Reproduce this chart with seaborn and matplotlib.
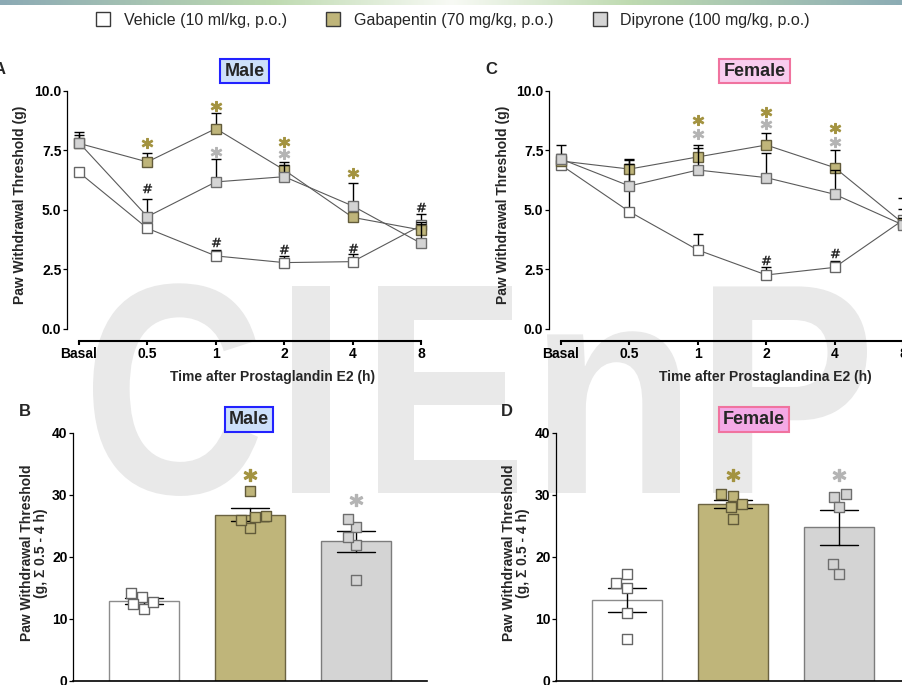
"""
Paw withdrawal threshold after PGE2 - male / female, time course and area
Output: out.png
"""

import numpy as np
import pandas as pd
import matplotlib
matplotlib.use("Agg")
import matplotlib.pyplot as plt
from matplotlib.lines import Line2D
from matplotlib.patches import PathPatch
from matplotlib.textpath import TextPath
from matplotlib.font_manager import FontProperties
from matplotlib.transforms import Affine2D
import seaborn as sns

# ---------------- data ----------------
times = ["Basal", "0.5", "1", "2", "4", "8"]
groups = ["Vehicle", "Gabapentin", "Dipyrone"]
legend_labels = ["Vehicle (10 ml/kg, p.o.)", "Gabapentin (70 mg/kg, p.o.)",
                 "Dipyrone (100 mg/kg, p.o.)"]

# A - male time course (mean and upper SEM, g)
male_veh = [6.58, 4.23, 3.07, 2.79, 2.83, 4.35]
male_veh_sem = [0.15, 0.15, 0.25, 0.29, 0.31, 0.47]
male_gaba = [7.80, 7.02, 8.42, 6.68, 4.69, 4.16]
male_gaba_sem = [0.35, 0.39, 0.64, 0.32, 0.30, 0.25]
male_dip = [7.83, 4.72, 6.18, 6.40, 5.17, 3.60]
male_dip_sem = [0.46, 0.76, 0.98, 0.49, 0.95, 0.91]

# C - female time course
female_veh = [6.89, 4.93, 3.32, 2.27, 2.59, 4.58]
female_veh_sem = [0.20, 2.20, 0.66, 0.32, 0.28, 0.94]
female_gaba = [7.06, 6.72, 7.23, 7.73, 6.78, 4.44]
female_gaba_sem = [0.67, 0.40, 0.50, 0.49, 0.73, 0.60]
female_dip = [7.14, 6.01, 6.68, 6.36, 5.66, 4.37]
female_dip_sem = [0.23, 0.91, 0.91, 1.05, 1.00, 0.30]

# significance marks (time index, height)
male_star_gaba = [(1, 7.80), (2, 9.35), (3, 7.85), (4, 6.55)]
male_star_dip = [(2, 7.45), (3, 7.35)]
male_hash = [(1, 5.91), (2, 3.67), (3, 3.36), (4, 3.42), (5, 5.14)]
female_star_gaba = [(2, 8.78), (3, 9.13), (4, 8.43)]
female_star_dip = [(2, 8.18), (3, 8.60), (4, 7.84)]
female_hash = [(3, 2.90), (4, 3.18)]

# B / D - area (g, sum 0.5 - 4 h), individual animals
male_auc_veh = [13.6, 11.6, 12.8, 14.2, 12.4]
male_auc_gaba = [26.6, 24.7, 30.6, 26.4, 25.9]
male_auc_dip = [24.9, 21.9, 26.2, 23.3, 16.3]
female_auc_veh = [17.2, 15.0, 15.8, 10.9, 6.7]
female_auc_gaba = [30.1, 28.0, 29.9, 26.2, 28.5]
female_auc_dip = [29.7, 30.1, 28.0, 18.8, 17.2]

male_auc_star = [(1, 33.3, "gaba"), (2, 29.15, "dip")]
female_auc_star = [(1, 33.3, "gaba"), (2, 33.2, "dip")]

# ---------------- style ----------------
fills = ["#ffffff", "#bfb57a", "#d4d4d4"]
mark_edges = ["#666666", "#625b3a", "#6e6e6e"]
bar_edges = ["#8c8c8c", "#6b6342", "#7c7c7c"]
star_cols = {"gaba": "#a39340", "dip": "#b4b4b4"}
line_col = "#5a5a5a"

W, H = 903, 685

sns.set_style("ticks")
plt.rcParams["font.family"] = ["Liberation Sans", "DejaVu Sans"]
plt.rcParams["font.weight"] = "bold"
plt.rcParams["axes.labelweight"] = "bold"
plt.rcParams["axes.edgecolor"] = "black"
plt.rcParams["xtick.color"] = "black"
plt.rcParams["ytick.color"] = "black"


def px_axes(fig, left, top, right, bottom):
    """axes from pixel box (top-left origin)"""
    return fig.add_axes([left / W, 1 - bottom / H, (right - left) / W, (bottom - top) / H])


def add_marks(ax, marks, marker, color, ms, mew):
    xs = [m[0] for m in marks]
    ys = [m[1] for m in marks]
    ax.plot(xs, ys, ls="none", marker=marker, ms=ms, color=color,
            markeredgecolor=color, markeredgewidth=mew, zorder=12, clip_on=False)


def time_course(ax, means, sems, star_gaba, star_dip, hashes, xlabel, xlabel_x, ylabel_x):
    pos = np.arange(len(times))
    for i in range(3):
        ax.errorbar(pos, means[i], yerr=[np.zeros(len(pos)), sems[i]], fmt="none",
                    ecolor="black", elinewidth=1.0, capsize=3.6, capthick=1.0,
                    zorder=2 + 2 * i, clip_on=False)
        df = pd.DataFrame({"t": pos, "pwt": means[i]})
        sns.lineplot(data=df, x="t", y="pwt", ax=ax, errorbar=None, color=line_col,
                     linewidth=0.8, marker="s", markersize=7.5,
                     markerfacecolor=fills[i], markeredgecolor=mark_edges[i],
                     markeredgewidth=1.0, zorder=3 + 2 * i, clip_on=False)

    add_marks(ax, star_gaba, "$*$", star_cols["gaba"], 7.5, 0.8)
    add_marks(ax, star_dip, "$*$", star_cols["dip"], 7.5, 0.8)
    add_marks(ax, hashes, r"$\#$", "#222222", 6.8, 0)

    ax.set_xlim(-0.175, 5.13)
    ax.set_ylim(0, 10)
    ax.set_xticks(pos, times)
    ax.set_yticks([0, 2.5, 5, 7.5, 10], ["0.0", "2.5", "5.0", "7.5", "10.0"])
    sns.despine(ax=ax)
    ax.spines["bottom"].set_position(("outward", 8.6))
    ax.spines["bottom"].set_bounds(0, 5)
    ax.spines["bottom"].set_linewidth(1.5)
    ax.spines["left"].set_bounds(0, 10)
    ax.spines["left"].set_linewidth(0.9)
    ax.tick_params(axis="x", length=3, width=1.5, pad=1.5, labelsize=10)
    ax.tick_params(axis="y", length=3, width=0.9, pad=1, labelsize=10)
    ax.set_xlabel(xlabel, fontsize=10)
    ax.xaxis.set_label_coords(xlabel_x, -0.172)
    ax.set_ylabel("Paw Withdrawal Threshold (g)", fontsize=10)
    ax.yaxis.set_label_coords(ylabel_x, 0.52)
    ax.set_facecolor("none")


def area_bars(ax, values, stars, ylabel_x):
    df = pd.DataFrame({"group": np.repeat(groups, [len(v) for v in values]),
                       "auc": np.concatenate(values)})
    sns.barplot(data=df, x="group", y="auc", hue="group", order=groups, hue_order=groups,
                palette=fills, saturation=1, errorbar="se", capsize=0.35, width=0.66,
                err_kws={"color": "black", "linewidth": 1.0}, linewidth=1.0,
                legend=False, ax=ax)
    for patch, ec in zip(ax.patches, bar_edges):
        patch.set_edgecolor(ec)
    for i, g in enumerate(groups):
        sns.swarmplot(data=df[df["group"] == g], x="group", y="auc", order=groups,
                      color=fills[i], marker="s", size=7.2, edgecolor=mark_edges[i],
                      linewidth=1.0, ax=ax, zorder=5)
    for x, y, kind in stars:
        add_marks(ax, [(x, y)], "$*$", star_cols[kind], 9, 0.9)

    ax.set_xlim(-0.67, 2.67)
    ax.set_ylim(0, 40)
    ax.set_yticks([0, 10, 20, 30, 40])
    sns.despine(ax=ax)
    ax.spines["left"].set_linewidth(0.9)
    ax.spines["bottom"].set_linewidth(1.2)
    ax.tick_params(axis="x", length=0, labelbottom=False)
    ax.tick_params(axis="y", length=3, width=0.9, pad=1, labelsize=10)
    ax.set_xlabel("")
    ax.set_ylabel("Paw Withdrawal Threshold\n(g, \u03a3 0.5 - 4 h)", fontsize=10,
                  linespacing=1.05)
    ax.yaxis.set_label_coords(ylabel_x, 0.516)
    ax.set_facecolor("none")


def main():
    fig = plt.figure(figsize=(W / 100, H / 100), dpi=100)
    fig.patch.set_facecolor("white")

    # top gradient band of the slide
    band = fig.add_axes([0, 1 - 5 / H, 1, 5 / H])
    stops = [0, 0.3, 0.5, 0.7, 1.0]
    stop_rgb = np.array([[140, 170, 181], [190, 218, 176], [248, 250, 245],
                         [190, 218, 176], [140, 172, 181]]) / 255
    xs = np.linspace(0, 1, 400)
    grad = np.stack([np.interp(xs, stops, stop_rgb[:, c]) for c in range(3)], axis=-1)
    band.imshow(grad[None, :, :], aspect="auto", extent=(0, 1, 0, 1))
    band.axis("off")

    # watermark letters (ink left, ink right), baseline at y=493, cap 215 px
    fp = FontProperties(family="Liberation Sans", weight="bold")
    for ch, left, right in [("C", 93, 258), ("I", 292, 330), ("E", 378, 517),
                            ("n", 547, 680), ("P", 713, 867)]:
        path = TextPath((0, 0), ch, size=300, prop=fp)
        ext = path.get_extents()
        sx = (right - left) / ext.width
        sy = 215 / (0.716 * 300)
        tr = Affine2D().translate(-ext.x0, 0).scale(sx, sy).translate(left, H - 493)
        fig.patches.append(PathPatch(tr.transform_path(path), facecolor="#e9e9e9",
                                     edgecolor="none", transform=None, zorder=-5))

    # legend
    handles = [Line2D([], [], ls="none", marker="s", ms=9.4, markerfacecolor=f,
                      markeredgecolor="#3a3a3a", markeredgewidth=1.0) for f in fills]
    fig.legend(handles, legend_labels, loc="center left",
               bbox_to_anchor=(95.5 / W, 1 - 20 / H), ncol=3, frameon=False,
               prop={"family": "Liberation Sans", "weight": "normal", "size": 11.5},
               handlelength=1.0, handletextpad=0.78, columnspacing=2.4,
               borderpad=0, borderaxespad=0)

    # panels
    ax_a = px_axes(fig, 67, 91, 430, 329)
    time_course(ax_a, [male_veh, male_gaba, male_dip],
                [male_veh_sem, male_gaba_sem, male_dip_sem],
                male_star_gaba, male_star_dip, male_hash,
                "Time after Prostaglandin E2 (h)", 0.567, -0.11)

    ax_c = px_axes(fig, 549, 91, 912, 329)
    time_course(ax_c, [female_veh, female_gaba, female_dip],
                [female_veh_sem, female_gaba_sem, female_dip_sem],
                female_star_gaba, female_star_dip, female_hash,
                "Time after Prostaglandina E2 (h)", 0.595, -0.107)

    ax_b = px_axes(fig, 73, 433, 427, 681)
    area_bars(ax_b, [male_auc_veh, male_auc_gaba, male_auc_dip], male_auc_star, -0.07)

    ax_d = px_axes(fig, 556, 433, 910, 681)
    area_bars(ax_d, [female_auc_veh, female_auc_gaba, female_auc_dip], female_auc_star, -0.073)

    # sex boxes
    boxes = [("Male", 244.5, 71, "#cde0fa", "#2222ff"),
             ("Female", 754.5, 71, "#f9cdef", "#f0739f"),
             ("Male", 249, 419.5, "#cde0fa", "#2222ff"),
             ("Female", 754, 419.5, "#f4a9e6", "#f0739f")]
    for txt, x, y, fc, ec in boxes:
        fig.text(x / W, 1 - y / H, txt, ha="center", va="center", fontsize=13,
                 fontweight="bold",
                 bbox=dict(boxstyle="square,pad=0.22", facecolor=fc, edgecolor=ec,
                           linewidth=1.5))

    # panel letters (A is cut by the left edge in the slide)
    for txt, x, y in [("A", 0, 70), ("C", 491, 70), ("B", 25, 412), ("D", 507, 412)]:
        fig.text(x / W, 1 - y / H, txt, ha="center", va="center", fontsize=12,
                 fontweight="bold")

    fig.savefig("out.png", dpi=100)
    plt.close(fig)


if __name__ == "__main__":
    main()
